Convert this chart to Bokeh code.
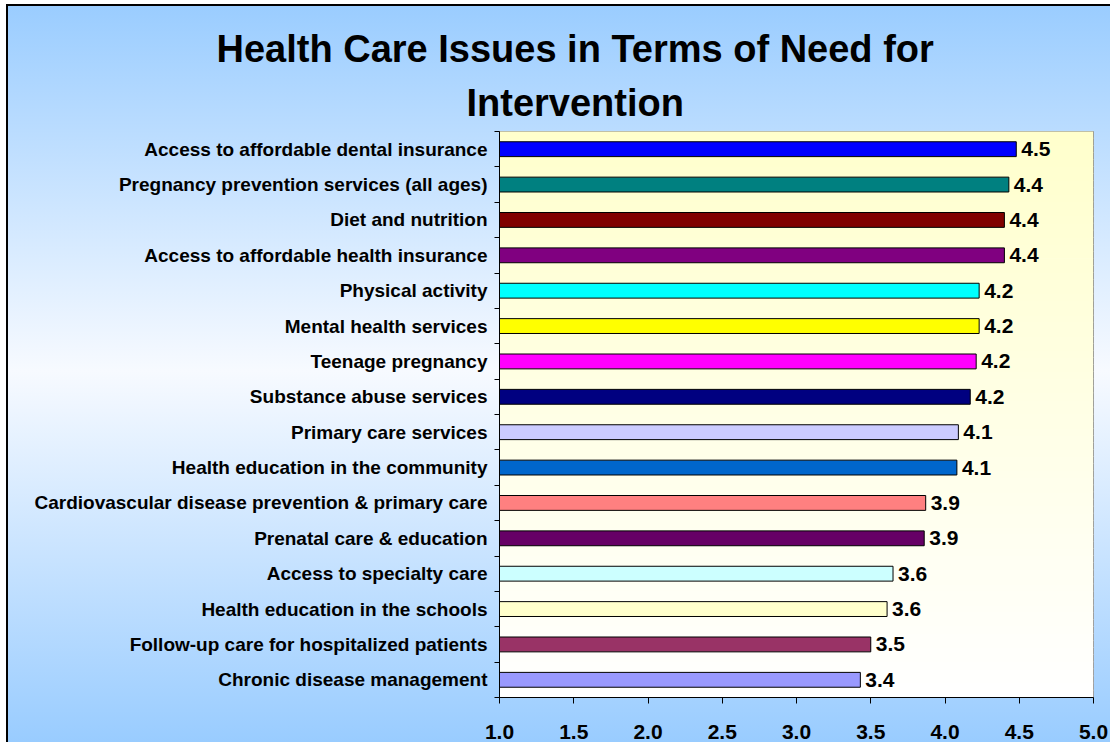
import numpy as np
from bokeh.plotting import figure
from bokeh.models import (Range1d, LinearAxis, FixedTicker, ColumnDataSource, Title,
                          NumeralTickFormatter)
from bokeh.embed import file_html
from bokeh.resources import INLINE
from bokeh.core.properties import value

categories = [
    "Access to affordable dental insurance",
    "Pregnancy prevention services (all ages)",
    "Diet and nutrition",
    "Access to affordable health insurance",
    "Physical activity",
    "Mental health services",
    "Teenage pregnancy",
    "Substance abuse services",
    "Primary care services",
    "Health education in the community",
    "Cardiovascular disease prevention & primary care",
    "Prenatal care & education",
    "Access to specialty care",
    "Health education in the schools",
    "Follow-up care for hospitalized patients",
    "Chronic disease management",
]
values = [4.48, 4.43, 4.40, 4.40, 4.23, 4.23, 4.21, 4.17,
          4.09, 4.08, 3.87, 3.86, 3.65, 3.61, 3.50, 3.43]
labels = ["4.5", "4.4", "4.4", "4.4", "4.2", "4.2", "4.2", "4.2",
          "4.1", "4.1", "3.9", "3.9", "3.6", "3.6", "3.5", "3.4"]
colors = ["#0000FF", "#008080", "#800000", "#800080", "#00FFFF", "#FFFF00",
          "#FF00FF", "#000080", "#CCCCFF", "#0066CC", "#FF8080", "#660066",
          "#CCFFFF", "#FFFFCC", "#993366", "#9999FF"]
x_ticks = [1.0, 1.5, 2.0, 2.5, 3.0, 3.5, 4.0, 4.5, 5.0]
title_lines = ["Health Care Issues in Terms of Need for", "Intervention"]

FONT = "Liberation Sans"
N = len(categories)
ypos = [N - 1 - i for i in range(N)]  # first category on top

src = ColumnDataSource(dict(y=ypos, val=values, color=colors, label=labels))

p = figure(width=1110, height=742, output_backend="svg", toolbar_location=None,
           x_range=Range1d(1, 5), y_range=Range1d(-0.5, N - 0.5),
           x_axis_location=None, y_axis_location=None,
           min_border_left=499, min_border_right=17, min_border_top=131,
           min_border_bottom=45)
p.grid.visible = False
p.border_fill_alpha = 0
p.background_fill_color = "#FFFFFF"
p.outline_line_color = "#808080"
p.outline_line_width = 1
p.styles = {
    "background": ("linear-gradient(#ffffff, #ffffff) 0 0 / 6px 100% no-repeat, "
                   "linear-gradient(#ffffff, #ffffff) 0 0 / 100% 4px no-repeat, "
                   "linear-gradient(#000000, #000000) 6px 4px / 2px 100% no-repeat, "
                   "linear-gradient(#000000, #000000) 6px 4px / 100% 2px no-repeat, "
                   "linear-gradient(to bottom, #99CCFF 0%, #F7FAFF 50%, #99CCFF 100%)"),
}

# plot-area gradient: pale yellow (top) to white (bottom), as thin bands
nb = 80
edges = np.linspace(-0.5, N - 0.5, nb + 1)
band_cols = []
for i in range(nb):
    t = (i + 0.5) / nb  # 0 bottom -> 1 top
    b = int(round(255 - (255 - 204) * t))
    band_cols.append("#FFFF%02X" % b)
p.quad(left=1, right=5, bottom=edges[:-1], top=edges[1:] + 0.02,
       fill_color=band_cols, line_color=None)

p.hbar(y="y", left=1, right="val", height=0.42, fill_color="color",
       line_color="black", line_width=1, source=src)

p.text(x="val", y="y", text="label", x_offset=5, text_baseline="middle",
       text_align="left", text_font=value(FONT), text_font_style="bold",
       text_font_size="21px", text_color="black", source=src)

# x axis
xaxis = LinearAxis(ticker=FixedTicker(ticks=x_ticks),
                   formatter=NumeralTickFormatter(format="0.0"))
xaxis.axis_line_color = "black"
xaxis.major_tick_line_color = "black"
xaxis.major_tick_out = 6
xaxis.major_tick_in = 0
xaxis.minor_tick_line_color = None
xaxis.major_label_standoff = 21
xaxis.major_label_text_font = FONT
xaxis.major_label_text_font_style = "bold"
xaxis.major_label_text_font_size = "21px"
xaxis.major_label_text_color = "black"
p.add_layout(xaxis, "below")

# y axis: tick marks at category boundaries
bounds = [k - 0.5 for k in range(N + 1)]
tick_axis = LinearAxis(ticker=FixedTicker(ticks=bounds),
                       major_label_overrides={b: "" for b in bounds})
tick_axis.major_label_text_font_size = "0px"
tick_axis.major_label_standoff = 0
tick_axis.major_tick_out = 5
tick_axis.major_tick_in = 0
tick_axis.minor_tick_line_color = None
tick_axis.axis_line_color = "black"
tick_axis.major_tick_line_color = "black"
p.add_layout(tick_axis, "left")

# y axis: category labels at centers
cat_axis = LinearAxis(ticker=FixedTicker(ticks=ypos),
                      major_label_overrides={yy: c for yy, c in zip(ypos, categories)})
cat_axis.axis_line_color = None
cat_axis.major_tick_line_color = None
cat_axis.minor_tick_line_color = None
cat_axis.major_label_standoff = 1
cat_axis.major_label_text_font = FONT
cat_axis.major_label_text_font_style = "bold"
cat_axis.major_label_text_font_size = "19px"
cat_axis.major_label_text_color = "black"
p.add_layout(cat_axis, "left")

# title: two lines (first line = figure title, second line nearest the plot)
p.title.text = title_lines[0]
p.title.align = "left"
p.title.offset = -283
p.title.standoff = 5
p.title.text_font = FONT
p.title.text_font_style = "bold"
p.title.text_font_size = "38px"
p.title.text_color = "black"
p.add_layout(Title(text=title_lines[1], align="left", offset=-33, standoff=15,
                   text_font=FONT, text_font_style="bold", text_font_size="38px",
                   text_color="black"), "above")

open("out.html", "w").write(file_html(p, INLINE))
